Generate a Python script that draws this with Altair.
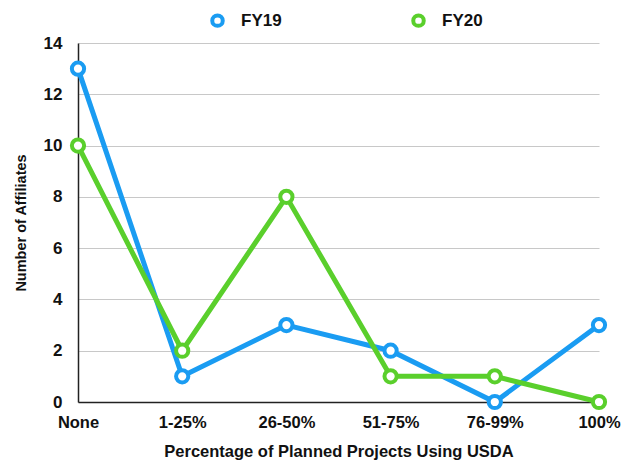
import altair as alt
import pandas as pd

categories = ["None", "1-25%", "26-50%", "51-75%", "76-99%", "100%"]
series = ["FY19", "FY20"]
fy19 = [13, 1, 3, 2, 0, 3]
fy20 = [10, 2, 8, 1, 1, 0]
colors = ["#1A9CF2", "#5ACF2C"]
y_ticks = [0, 2, 4, 6, 8, 10, 12, 14]

rows = []
for s, vals in zip(series, [fy19, fy20]):
    for c, v in zip(categories, vals):
        rows.append({"Category": c, "Series": s, "Value": v})
df = pd.DataFrame(rows)

FONT = "Liberation Sans"

legend = alt.Legend(
    title=None,
    orient="none",
    direction="horizontal",
    legendX=131,
    legendY=-31,
    symbolType="circle",
    symbolFillColor="white",
    symbolStrokeWidth=4,
    symbolSize=110,
    labelFont=FONT,
    labelFontSize=17,
    labelFontWeight="bold",
    labelColor="#111111",
    labelOffset=15,
    columnPadding=123,
    padding=0,
)

color = alt.Color("Series:N", scale=alt.Scale(domain=series, range=colors), legend=legend)

x = alt.X(
    "Category:N",
    sort=categories,
    scale=alt.Scale(type="point", padding=0),
    axis=alt.Axis(
        title="Percentage of Planned Projects Using USDA",
        labelAngle=0,
        labelFont=FONT,
        labelFontSize=16.5,
        labelFontWeight="bold",
        labelColor="#111111",
        labelPadding=12,
        ticks=False,
        grid=False,
        domainColor="#222222",
        domainWidth=1.5,
        titleFont=FONT,
        titleFontSize=16.5,
        titleFontWeight="bold",
        titleColor="#111111",
        titlePadding=13,
    ),
)

y = alt.Y(
    "Value:Q",
    scale=alt.Scale(domain=[0, 14], nice=False),
    axis=alt.Axis(
        title="Number of Affiliates",
        values=y_ticks,
        labelFont=FONT,
        labelFontSize=17,
        labelFontWeight="bold",
        labelColor="#111111",
        labelPadding=16,
        ticks=False,
        grid=True,
        gridColor="#c8c8c8",
        gridWidth=1.2,
        domainColor="#222222",
        domainWidth=1.5,
        titleFont=FONT,
        titleFontSize=14.5,
        titleFontWeight="bold",
        titleColor="#111111",
        titlePadding=15,
    ),
)

base = alt.Chart(df)
line = base.mark_line(strokeWidth=5).encode(x=x, y=y, color=color)
pts = base.mark_point(filled=False, fill="white", fillOpacity=1, strokeWidth=4, size=150, opacity=1).encode(
    x=x, y=y, color=color,
)

chart = (
    alt.layer(line, pts)
    .properties(
        width=521,
        height=359,
        padding={"left": 70, "top": 35, "right": 22, "bottom": 60},
        autosize=alt.AutoSizeParams(type="none"),
        background="white",
    )
    .configure_view(stroke=None)
)

chart.save("out.html", embed_options={"renderer": "svg", "actions": False})
